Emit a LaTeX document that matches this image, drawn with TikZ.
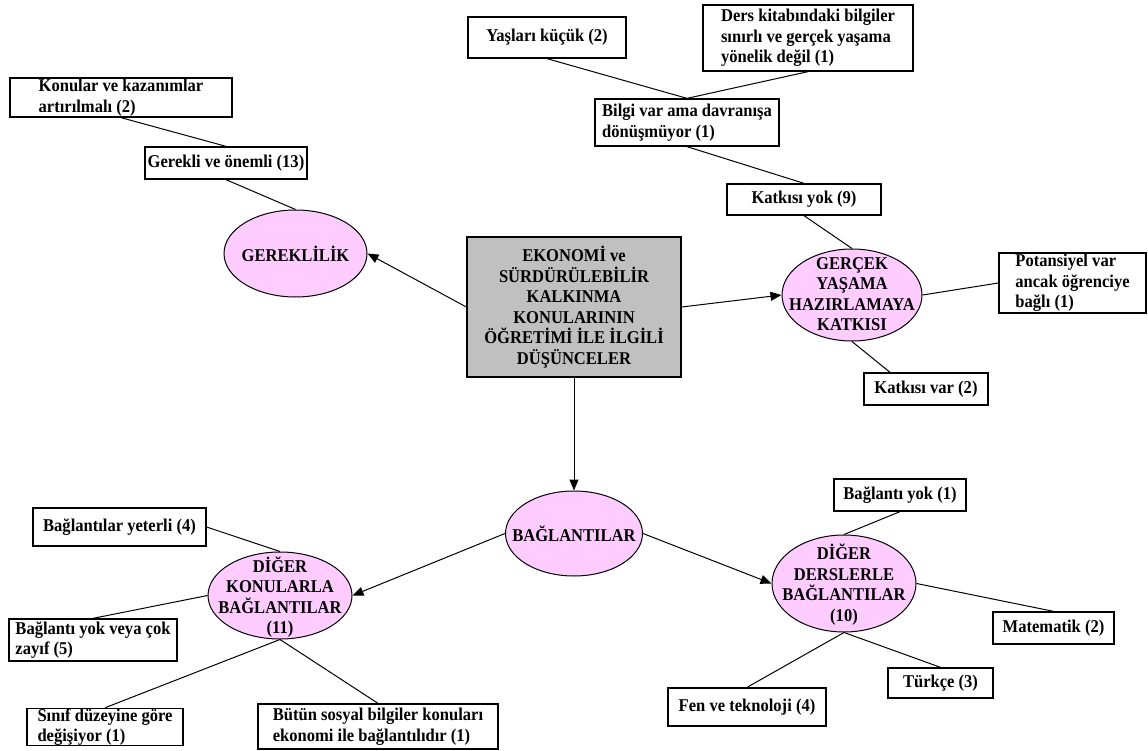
\documentclass[tikz,border=0pt]{standalone}
\usepackage{fontspec}
\setmainfont{Liberation Serif}[FakeStretch=0.92]
\usetikzlibrary{shapes.geometric,arrows.meta}
\definecolor{pinkfill}{HTML}{FFCCFF}
\definecolor{grayfill}{HTML}{C0C0C0}
\begin{document}
\begin{tikzpicture}[x=1pt,y=-1pt,
  every node/.style={font=\bfseries\fontsize{18}{20.5}\selectfont},
  box/.style={draw, line width=1.3pt, inner sep=0pt, align=left, fill=white},
  cbox/.style={draw, line width=1.3pt, inner sep=0pt, align=center, fill=grayfill},
  ell/.style={draw, ellipse, line width=1pt, inner sep=0pt, fill=pinkfill},
  etext/.style={inner sep=0pt, align=center},
  conn/.style={line width=1pt},
  arr/.style={line width=1pt, -{Triangle[length=11pt,width=9pt]}}]
\useasboundingbox (0,0) rectangle (1148,751);
\fill[white] (0,0) rectangle (1148,751);

% central box
\node[cbox, minimum width=214pt, minimum height=140pt] (center) at (574,307)
  {EKONOMİ ve\\SÜRDÜRÜLEBİLİR\\KALKINMA\\KONULARININ\\ÖĞRETİMİ İLE İLGİLİ\\DÜŞÜNCELER};

% ellipses
\node[ell, minimum width=143pt, minimum height=87pt] (gerE) at (295.5,253.5) {};
\node[etext] (gerT) at (gerE) {GEREKLİLİK};
\node[ell, minimum width=140pt, minimum height=92pt] (gercE) at (852,295) {};
\node[etext] (gercT) at (852,294) {GERÇEK\\YAŞAMA\\HAZIRLAMAYA\\KATKISI};
\node[ell, minimum width=137pt, minimum height=85pt] (bagE) at (574,533.5) {};
\node[etext] (bagT) at (bagE) {BAĞLANTILAR};
\node[ell, minimum width=144pt, minimum height=87pt] (dkonE) at (280,595.5) {};
\node[etext] (dkonT) at (280,597) {DİĞER\\KONULARLA\\BAĞLANTILAR\\(11)};
\node[ell, minimum width=144pt, minimum height=97pt] (ddersE) at (844,583.5) {};
\node[etext] (ddersT) at (844,584.5) {DİĞER\\DERSLERLE\\BAĞLANTILAR\\(10)};

% boxes
\node[box, minimum width=222pt, minimum height=39pt] (konular) at (121,97.5) {Konular ve kazanımlar\\artırılmalı (2)};
\node[box, minimum width=162pt, minimum height=32pt] (gerekli) at (226,163) {Gerekli ve önemli (13)};
\node[box, minimum width=158pt, minimum height=41pt] (yas) at (547,37.5) {Yaşları küçük (2)};
\node[box, minimum width=210pt, minimum height=66pt] (ders) at (808,38) {Ders kitabındaki bilgiler\\sınırlı ve gerçek yaşama\\yönelik değil (1)};
\node[box, minimum width=184pt, minimum height=47pt] (bilgi) at (687,122.5) {Bilgi var ama davranışa\\dönüşmüyor (1)};
\node[box, minimum width=154pt, minimum height=31pt] (kyok) at (804,199.5) {Katkısı yok (9)};
\node[box, minimum width=147pt, minimum height=60pt] (pot) at (1072.5,283) {Potansiyel var\\ancak öğrenciye\\bağlı (1)};
\node[box, minimum width=124pt, minimum height=32pt] (kvar) at (926,389) {Katkısı var (2)};
\node[box, minimum width=173pt, minimum height=38pt] (byet) at (119.5,527) {Bağlantılar yeterli (4)};
\node[box, minimum width=168pt, minimum height=42pt] (byok) at (93,640) {Bağlantı yok veya çok\\zayıf (5)};
\node[box, minimum width=156pt, minimum height=36pt] (sinif) at (105,727) {Sınıf düzeyine göre\\değişiyor (1)};
\node[box, minimum width=240pt, minimum height=45pt] (butun) at (378,726.5) {Bütün sosyal bilgiler konuları\\ekonomi ile bağlantılıdır (1)};
\node[box, minimum width=132pt, minimum height=32pt] (bag1) at (900,495) {Bağlantı yok (1)};
\node[box, minimum width=121pt, minimum height=32pt] (mat) at (1053.5,628) {Matematik (2)};
\node[box, minimum width=105pt, minimum height=30pt] (turk) at (940.5,683) {Türkçe (3)};
\node[box, minimum width=158pt, minimum height=38pt] (fen) at (747,707) {Fen ve teknoloji (4)};

% arrows from the central box
\draw[arr] (center.west) -- (gerE.east);
\draw[arr] (center.east) -- (gercE.west);
\draw[arr] (center.south) -- (bagE.north);
\draw[arr] (bagE.west) -- (dkonE.east);
\draw[arr] (bagE.east) -- (ddersE.west);

% plain connectors
\draw[conn] (konular.south) -- (gerekli.north);
\draw[conn] (gerekli.south) -- (gerE.north);
\draw[conn] (yas.south) -- (bilgi.north);
\draw[conn] (ders.south) -- (bilgi.north);
\draw[conn] (bilgi.south) -- (kyok.north);
\draw[conn] (kyok.south) -- (gercE.north);
\draw[conn] (gercE.east) -- (pot.west);
\draw[conn] (gercE.south) -- ([xshift=-36pt]kvar.north);
\draw[conn] (byet.east) -- (dkonE.north);
\draw[conn] (byok.north) -- (dkonE.west);
\draw[conn] (dkonE.south) -- (sinif.north);
\draw[conn] (dkonE.south) -- (butun.north);
\draw[conn] (bag1.south) -- (ddersE.north);
\draw[conn] (ddersE.east) -- (mat.north);
\draw[conn] (ddersE.south) -- (turk.north);
\draw[conn] (ddersE.south) -- (fen.north);
\end{tikzpicture}
\end{document}
